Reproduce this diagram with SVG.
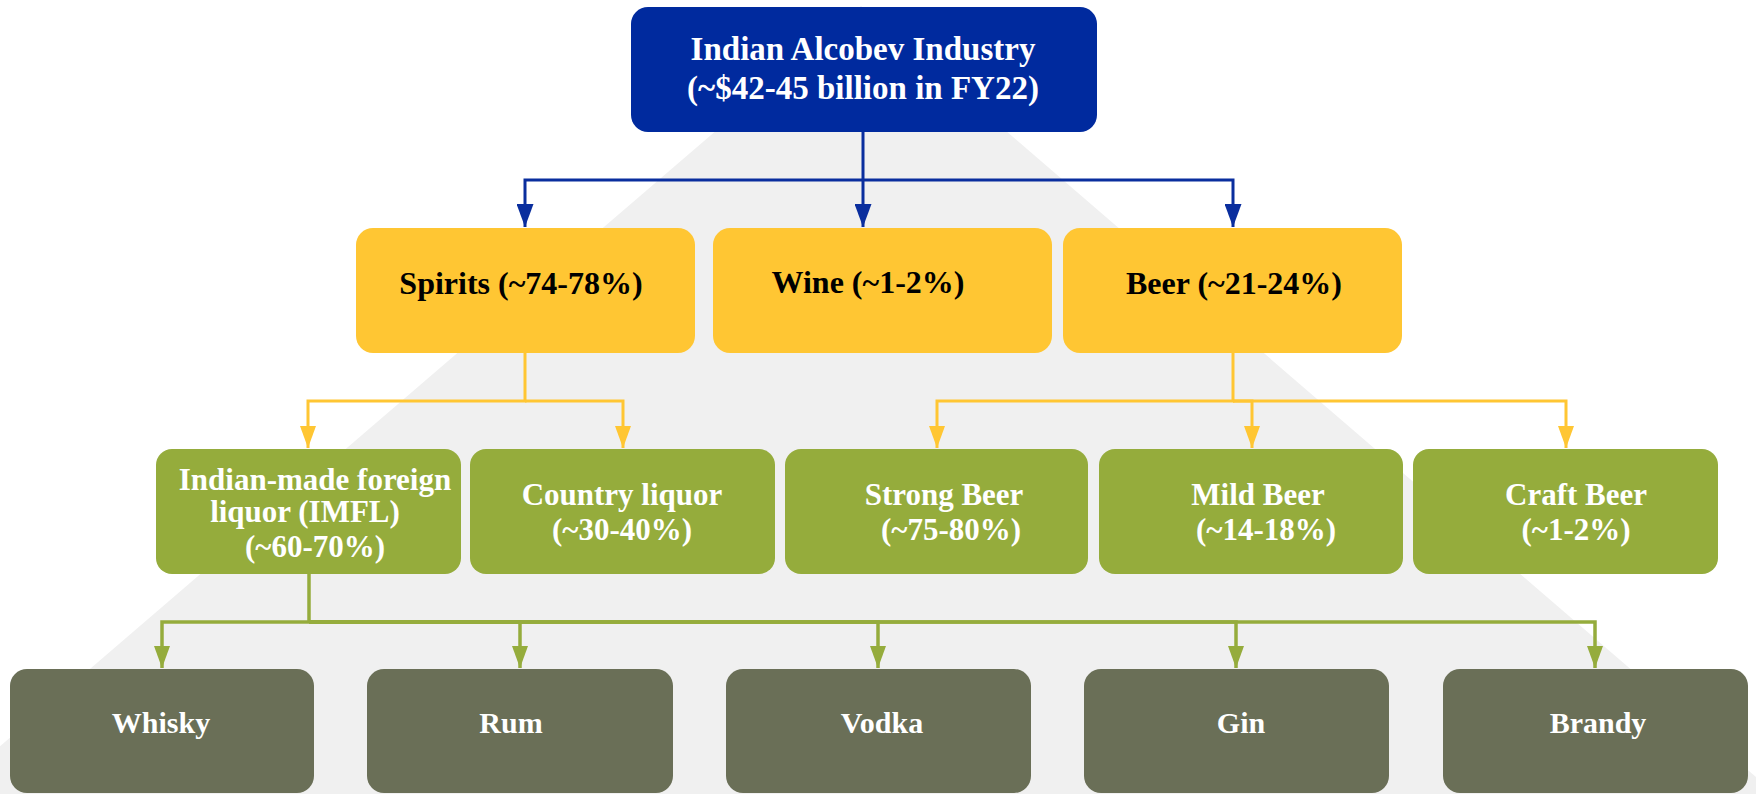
<svg xmlns="http://www.w3.org/2000/svg" width="1756" height="794" viewBox="0 0 1756 794">
<defs>
<style>
.t{font-family:"Liberation Serif","Times New Roman",serif;font-weight:bold;text-anchor:middle}
.top{fill:#FFFFFF;font-size:33px}
.l2{fill:#000000;font-size:32px}
.l3{fill:#FFFFFF;font-size:31px}
.l4{fill:#FFFFFF;font-size:30px}
.bl{fill:none;stroke:#0A2E9E;stroke-width:3}
.yl{fill:none;stroke:#FFC633;stroke-width:3}
.gl{fill:none;stroke:#95AC3C;stroke-width:3.5}
</style>
<marker id="ab" markerUnits="userSpaceOnUse" markerWidth="23" markerHeight="17" refX="23" refY="8.5" orient="auto"><path d="M0,0 L23,8.5 L0,17 Z" fill="#0A2E9E"/></marker>
<marker id="ay" markerUnits="userSpaceOnUse" markerWidth="22" markerHeight="16" refX="22" refY="8" orient="auto"><path d="M0,0 L22,8 L0,16 Z" fill="#FFC633"/></marker>
<marker id="ag" markerUnits="userSpaceOnUse" markerWidth="22" markerHeight="16" refX="22" refY="8" orient="auto"><path d="M0,0 L22,8 L0,16 Z" fill="#95AC3C"/></marker>
</defs>
<rect x="0" y="0" width="1756" height="794" fill="#FFFFFF"/>
<polygon points="861,6 -80,815 1800,815" fill="#F0F0F0"/>

<g id="connectors">
<path class="bl" d="M863,132 V227" marker-end="url(#ab)"/>
<path class="bl" d="M863,180 H525 V227" marker-end="url(#ab)"/>
<path class="bl" d="M863,180 H1233 V227" marker-end="url(#ab)"/>
<path class="yl" d="M525,353 V401 H308 V448" marker-end="url(#ay)"/>
<path class="yl" d="M525,401 H623 V448" marker-end="url(#ay)"/>
<path class="yl" d="M1233,353 V401 H937 V448" marker-end="url(#ay)"/>
<path class="yl" d="M1233,401 H1252 V448" marker-end="url(#ay)"/>
<path class="yl" d="M1233,401 H1566 V448" marker-end="url(#ay)"/>
<path class="gl" d="M309,574 V622 H162 V668" marker-end="url(#ag)"/>
<path class="gl" d="M309,622 H520 V668" marker-end="url(#ag)"/>
<path class="gl" d="M309,622 H878 V668" marker-end="url(#ag)"/>
<path class="gl" d="M309,622 H1236 V668" marker-end="url(#ag)"/>
<path class="gl" d="M309,622 H1595 V668" marker-end="url(#ag)"/>
</g>

<g id="industry">
<rect x="631" y="7" width="466" height="125" rx="17" fill="#002A9E"/>
<text class="t top" x="863" y="60">Indian Alcobev Industry</text>
<text class="t top" x="863" y="99">(~$42-45 billion in FY22)</text>
</g>

<g id="spirits">
<rect x="356" y="228" width="339" height="125" rx="17" fill="#FFC633"/>
<text class="t l2" x="521" y="294">Spirits (~74-78%)</text>
</g>
<g id="wine">
<rect x="713" y="228" width="339" height="125" rx="17" fill="#FFC633"/>
<text class="t l2" x="868" y="293">Wine (~1-2%)</text>
</g>
<g id="beer">
<rect x="1063" y="228" width="339" height="125" rx="17" fill="#FFC633"/>
<text class="t l2" x="1234" y="294">Beer (~21-24%)</text>
</g>

<g id="imfl">
<rect x="156" y="449" width="305" height="125" rx="16" fill="#95AC3C"/>
<text class="t l3" x="315" y="490">Indian-made foreign</text>
<text class="t l3" x="305" y="522">liquor (IMFL)</text>
<text class="t l3" x="315" y="557">(~60-70%)</text>
</g>
<g id="country">
<rect x="470" y="449" width="305" height="125" rx="16" fill="#95AC3C"/>
<text class="t l3" x="622" y="505">Country liquor</text>
<text class="t l3" x="622" y="540">(~30-40%)</text>
</g>
<g id="strong">
<rect x="785" y="449" width="303" height="125" rx="16" fill="#95AC3C"/>
<text class="t l3" x="944" y="505">Strong Beer</text>
<text class="t l3" x="951" y="540">(~75-80%)</text>
</g>
<g id="mild">
<rect x="1099" y="449" width="304" height="125" rx="16" fill="#95AC3C"/>
<text class="t l3" x="1258" y="505">Mild Beer</text>
<text class="t l3" x="1266" y="540">(~14-18%)</text>
</g>
<g id="craft">
<rect x="1413" y="449" width="305" height="125" rx="16" fill="#95AC3C"/>
<text class="t l3" x="1576" y="505">Craft Beer</text>
<text class="t l3" x="1576" y="540">(~1-2%)</text>
</g>

<g id="whisky">
<rect x="10" y="669" width="304" height="124" rx="17" fill="#6A6F57"/>
<text class="t l4" x="161" y="733">Whisky</text>
</g>
<g id="rum">
<rect x="367" y="669" width="306" height="124" rx="17" fill="#6A6F57"/>
<text class="t l4" x="511" y="733">Rum</text>
</g>
<g id="vodka">
<rect x="726" y="669" width="305" height="124" rx="17" fill="#6A6F57"/>
<text class="t l4" x="882" y="733">Vodka</text>
</g>
<g id="gin">
<rect x="1084" y="669" width="305" height="124" rx="17" fill="#6A6F57"/>
<text class="t l4" x="1241" y="733">Gin</text>
</g>
<g id="brandy">
<rect x="1443" y="669" width="305" height="124" rx="17" fill="#6A6F57"/>
<text class="t l4" x="1598" y="733">Brandy</text>
</g>
</svg>
